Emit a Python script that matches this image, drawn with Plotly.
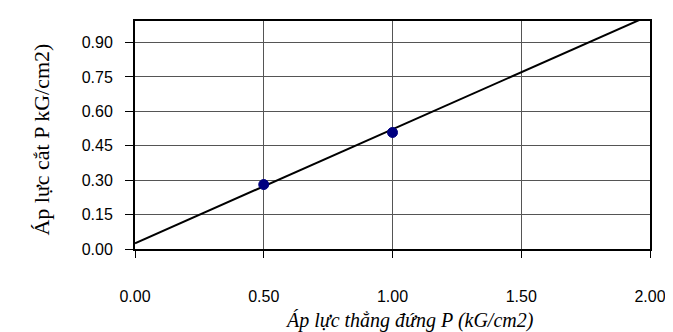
import plotly.graph_objects as go

# Data
pt_x = [0.5, 1.0]
pt_y = [0.281, 0.508]
trend_x = [0.0, 2.0]
trend_y = [0.025, 1.019]
x_ticks = [0.0, 0.5, 1.0, 1.5, 2.0]
x_ticklabels = ["0.00", "0.50", "1.00", "1.50", "2.00"]
y_ticks = [0.0, 0.15, 0.30, 0.45, 0.60, 0.75, 0.90]
y_ticklabels = ["0.00", "0.15", "0.30", "0.45", "0.60", "0.75", "0.90"]
x_title = "Áp lực thẳng đứng P (kG/cm2)"
y_title = "Áp lực cắt P kG/cm2)"

fig = go.Figure()
fig.add_trace(go.Scatter(x=trend_x, y=trend_y, mode="lines",
                         line=dict(color="black", width=2), showlegend=False,
                         cliponaxis=True))
fig.add_trace(go.Scatter(x=pt_x, y=pt_y, mode="markers",
                         marker=dict(color="#000080", size=10,
                                     line=dict(color="#000080", width=1)),
                         showlegend=False))

fig.update_layout(
    width=673, height=332,
    margin=dict(l=127, r=31, t=13, b=91),
    paper_bgcolor="white", plot_bgcolor="white",
    font=dict(family="Liberation Sans, Arial", size=16, color="black"),
    annotations=[
        dict(text=x_title, xref="paper", yref="paper", x=0.533, y=-0.315,
             xanchor="center", yanchor="middle", showarrow=False,
             font=dict(family="Liberation Serif, Times New Roman", size=20,
                       style="italic", color="black")),
        dict(text=y_title, xref="paper", yref="paper", x=-0.182, y=0.481,
             xanchor="center", yanchor="middle", showarrow=False, textangle=-90,
             font=dict(family="Liberation Serif, Times New Roman", size=22,
                       color="black")),
    ],
)
fig.update_xaxes(
    range=[0, 2.0], tickvals=x_ticks, ticktext=x_ticklabels,
    showgrid=True, gridcolor="#555555", gridwidth=1,
    showline=True, linecolor="black", linewidth=2, mirror=True,
    ticks="outside", ticklen=7, tickcolor="black", tickwidth=1,
    ticklabelstandoff=25, zeroline=False,
)
fig.update_yaxes(
    range=[0, 0.994], tickvals=y_ticks, ticktext=y_ticklabels,
    showgrid=True, gridcolor="#555555", gridwidth=1,
    showline=True, linecolor="black", linewidth=2, mirror=True,
    ticks="outside", ticklen=8, tickcolor="black", tickwidth=1,
    ticklabelstandoff=9, zeroline=False,
)
fig.write_html("out.html")
